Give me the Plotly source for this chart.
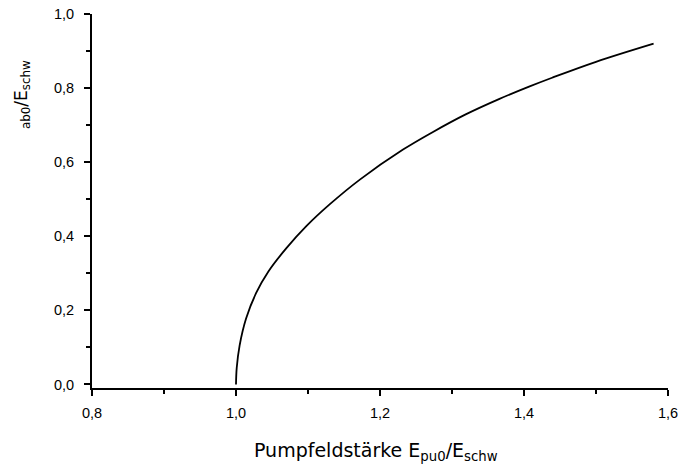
import plotly.graph_objects as go

# Pumpfeldstaerke E_pu0/E_schw vs. E_ab0/E_schw
pump_field = [1.000, 1.001, 1.005, 1.014, 1.028, 1.045, 1.070, 1.098, 1.130, 1.172,
              1.232, 1.273, 1.319, 1.366, 1.407, 1.439, 1.500, 1.580]
ab_field = [0.000, 0.045, 0.105, 0.178, 0.247, 0.305, 0.368, 0.428, 0.486, 0.553,
            0.634, 0.681, 0.729, 0.771, 0.804, 0.828, 0.871, 0.920]

x_ticks = [0.8, 1.0, 1.2, 1.4, 1.6]
y_ticks = [0.0, 0.2, 0.4, 0.6, 0.8, 1.0]

tick_font = dict(family='Liberation Sans, Arial, sans-serif', size=14.5)

fig = go.Figure()
fig.add_trace(go.Scatter(x=pump_field, y=ab_field,
                         mode='lines',
                         line=dict(color='black', width=1.8, shape='spline', smoothing=1.0),
                         showlegend=False))

fig.update_layout(
    width=678, height=464,
    margin=dict(l=92, r=10, t=14, b=75.5, autoexpand=False),
    paper_bgcolor='white', plot_bgcolor='white',
    separators=',.',
    font=dict(family='DejaVu Sans, Arial, sans-serif', color='black', size=14),
    xaxis=dict(
        range=[0.8, 1.6],
        tickvals=x_ticks,
        tickformat='.1f',
        tickfont=tick_font,
        ticks='outside', ticklen=6, tickwidth=1.5, tickcolor='black',
        minor=dict(dtick=0.1, tick0=0.8, ticks='outside', ticklen=4, tickwidth=1.5, tickcolor='black'),
        showline=True, linecolor='black', linewidth=2,
        showgrid=False, zeroline=False,
        ticklabelstandoff=5,
        ticklabeloverflow='allow',
    ),
    yaxis=dict(
        range=[-0.0095, 1.0],
        tickvals=y_ticks,
        tickformat='.1f',
        tickfont=tick_font,
        ticks='outside', ticklen=6, tickwidth=1.5, tickcolor='black',
        minor=dict(dtick=0.1, tick0=0.0, ticks='outside', ticklen=4, tickwidth=1.5, tickcolor='black'),
        showline=True, linecolor='black', linewidth=2,
        showgrid=False, zeroline=False,
        ticklabelstandoff=7,
        ticklabeloverflow='allow',
    ),
    annotations=[
        dict(text='<sub>ab0</sub>/E<sub>schw</sub>',
             xref='paper', yref='paper',
             x=-0.121, y=0.784,
             xanchor='center', yanchor='middle',
             textangle=-90, showarrow=False,
             font=dict(size=17)),
        dict(text='Pumpfeldstärke E<sub>pu0</sub>/E<sub>schw</sub>',
             xref='paper', yref='paper',
             x=0.493, y=-0.17,
             xanchor='center', yanchor='middle',
             showarrow=False,
             font=dict(size=19)),
    ],
)

# drop the default 8px body margin so the figure sits at the window's corner
fig.write_html("out.html", config={'displayModeBar': False},
               post_script="document.body.style.margin='0';")
